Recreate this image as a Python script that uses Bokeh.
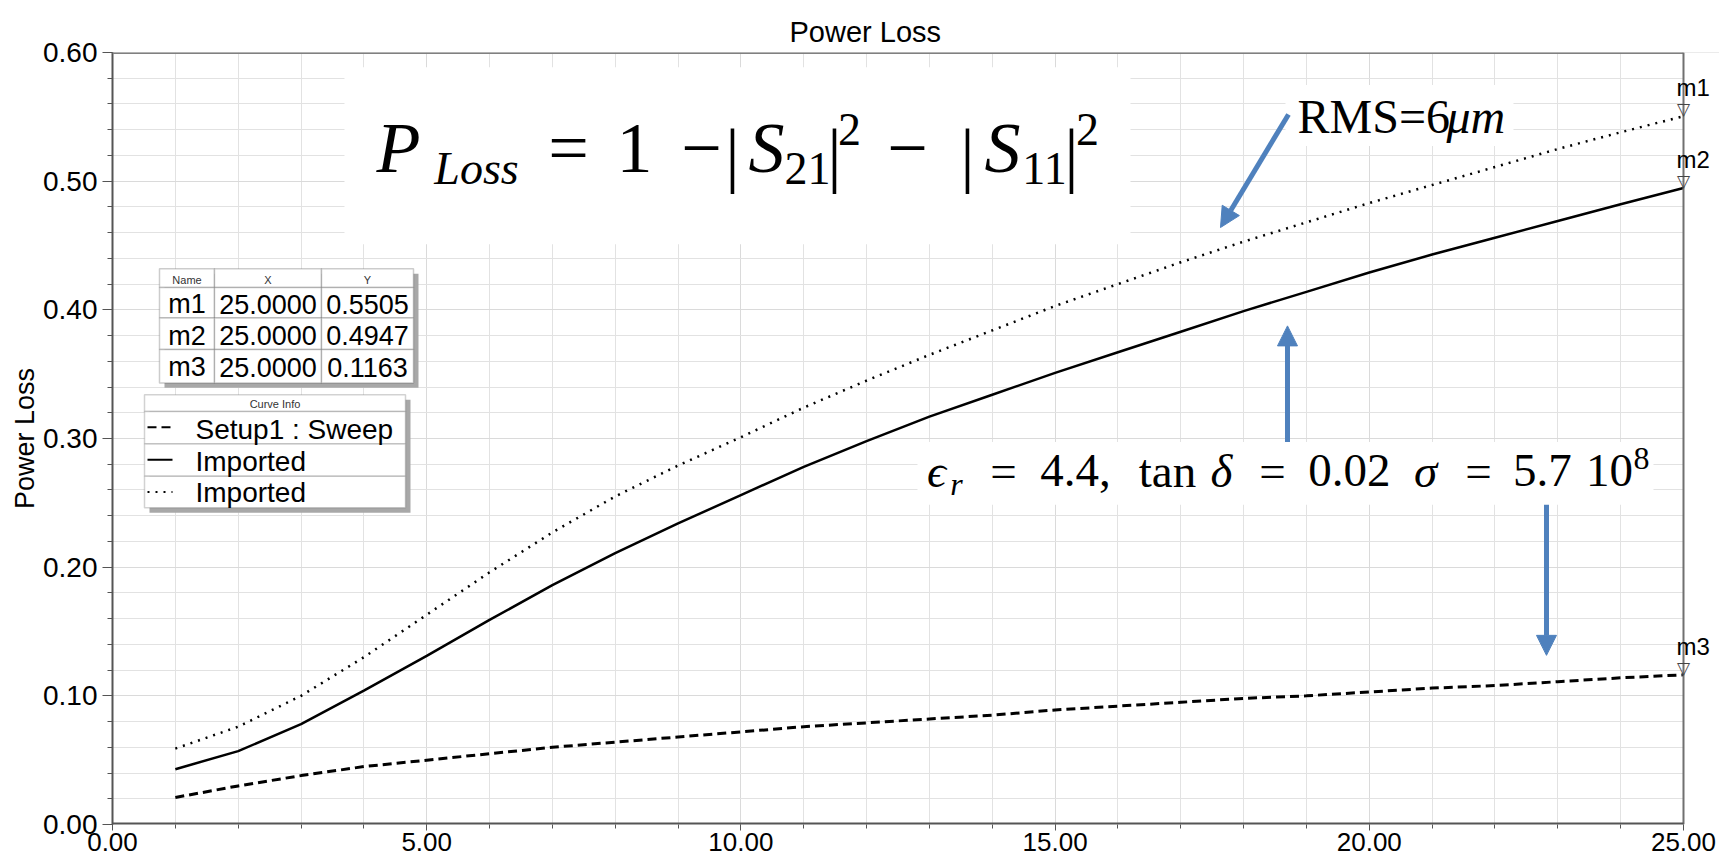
from bokeh.plotting import figure
from bokeh.models import (Range1d, SingleIntervalTicker, NumeralTickFormatter, BoxAnnotation,
                          Label, LabelSet, ColumnDataSource, Arrow, NormalHead)
from bokeh.core.properties import value
from bokeh.embed import file_html
from bokeh.resources import INLINE

# ---------------- data ----------------
freq = list(range(1, 26))
loss_sweep = [0.021, 0.030, 0.038, 0.045, 0.050, 0.055, 0.060, 0.064, 0.068, 0.072,
              0.076, 0.079, 0.082, 0.085, 0.089, 0.092, 0.095, 0.098, 0.100, 0.103,
              0.106, 0.108, 0.111, 0.114, 0.1163]
loss_imported_solid = [0.043, 0.057, 0.078, 0.104, 0.131, 0.159, 0.186, 0.211, 0.234, 0.256,
                       0.278, 0.298, 0.317, 0.334, 0.351, 0.367, 0.383, 0.399, 0.414, 0.429,
                       0.443, 0.456, 0.469, 0.482, 0.4947]
loss_imported_dotted = [0.059, 0.076, 0.100, 0.130, 0.163, 0.196, 0.227, 0.255, 0.279, 0.301,
                        0.324, 0.345, 0.365, 0.384, 0.403, 0.420, 0.437, 0.453, 0.468, 0.483,
                        0.497, 0.511, 0.525, 0.538, 0.5505]

marker_names = ["m1", "m2", "m3"]
marker_x = [25.0, 25.0, 25.0]
marker_y = [0.5505, 0.4947, 0.1163]

table_header = ["Name", "X", "Y"]
curve_labels = ["Setup1 : Sweep", "Imported", "Imported"]
curve_dashes = ["9 5", "solid", "2 6"]

X_MAX = 25.0
Y_MAX = 0.6

# ---------------- figure ----------------
p = figure(width=1719, height=862, output_backend="svg", toolbar_location=None,
           x_range=Range1d(0, 25.573), y_range=Range1d(0, Y_MAX + 1e-6),
           min_border_left=112, min_border_right=0, min_border_top=52, min_border_bottom=38)
p.background_fill_color = "white"
p.border_fill_color = "white"
p.outline_line_color = None

p.title.text = "Power Loss"
p.title.text_font = "Liberation Sans"
p.title.text_font_size = "29px"
p.title.text_font_style = "normal"
p.title.text_color = "black"
p.title.align = "left"
p.title.offset = 677
p.title.standoff = 10

for ax in (p.xaxis[0], p.yaxis[0]):
    ax.formatter = NumeralTickFormatter(format="0.00")
    ax.major_label_text_font = "Liberation Sans"
    ax.major_label_text_color = "black"
    ax.axis_line_color = "#555555"
    ax.axis_line_width = 2
    ax.major_tick_line_color = "#555555"
    ax.minor_tick_line_color = "#555555"
    ax.major_tick_in = 0
    ax.minor_tick_in = 0

p.xaxis.axis_line_color = None
p.yaxis.ticker = SingleIntervalTicker(interval=0.1, num_minor_ticks=5)
p.xaxis.ticker = SingleIntervalTicker(interval=5, num_minor_ticks=5)
p.yaxis.major_label_text_font_size = "28px"
p.xaxis.major_label_text_font_size = "26px"
p.yaxis.major_tick_out = 10
p.yaxis.minor_tick_out = 5
p.xaxis.major_tick_out = 6
p.xaxis.minor_tick_out = 4
p.yaxis.major_label_standoff = 5
p.xaxis.major_label_standoff = 2
p.yaxis.axis_label = "Power Loss"
p.yaxis.axis_label_text_font = "Liberation Sans"
p.yaxis.axis_label_text_font_size = "27px"
p.yaxis.axis_label_text_font_style = "normal"
p.yaxis.axis_label_text_color = "black"
p.yaxis.axis_label_standoff = 0

for g in (p.xgrid[0], p.ygrid[0]):
    g.grid_line_color = "#DADADA"
    g.grid_line_width = 1
    g.minor_grid_line_color = "#E2E2E2"
    g.minor_grid_line_width = 1

# ---------------- curves ----------------
p.line(freq, loss_sweep, line_color="black", line_width=3, line_dash=curve_dashes[0])
p.line(freq, loss_imported_solid, line_color="black", line_width=2.5)
p.line(freq, loss_imported_dotted, line_color="black", line_width=2.5, line_dash=curve_dashes[2])

# reference-pixel -> data helpers (annotation placement only)
def dx(px):
    return (px - 112) / 62.84

def dy(py):
    return (837 - py) / 1308.3

# area right of the last frequency: blank, then frame borders
p.add_layout(BoxAnnotation(left=X_MAX, fill_color="white", fill_alpha=1.0, line_alpha=0))
for (x0, y0, x1, y1, w, c) in [(0, Y_MAX, X_MAX, Y_MAX, 3, "#808080"),
                               (X_MAX, 0, X_MAX, Y_MAX, 2, "#707070"),
                               (0, 0, X_MAX, 0, 4, "#555555")]:
    p.add_layout(Arrow(end=None, x_start=x0, y_start=y0, x_end=x1, y_end=y1,
                       line_color=c, line_width=w))

# ---------------- markers ----------------
msrc = ColumnDataSource(dict(x=marker_x, y=marker_y, name=marker_names, tri=["\u25BD"] * 3))
p.add_layout(LabelSet(x="x", y="y", text="tri", source=msrc, text_align="center",
                      text_baseline="middle", y_offset=7, text_font=value("DejaVu Sans"),
                      text_font_size=value("17px"), text_color="#444444"))
p.add_layout(LabelSet(x="x", y="y", text="name", source=msrc, x_offset=-7, y_offset=20,
                      text_align="left", text_baseline="alphabetic",
                      text_font=value("Liberation Sans"), text_font_size=value("24px"),
                      text_color="black"))

# ---------------- math annotations ----------------
def white_box(l, r, t, b):
    p.add_layout(BoxAnnotation(left=dx(l), right=dx(r), top=dy(t), bottom=dy(b),
                               fill_color="white", fill_alpha=1.0, line_alpha=0))

def txt(s, px, py, size, italic=False, font="Liberation Serif", align="left", color="black"):
    # py is the reference baseline; compensate the renderer's baseline placement
    p.add_layout(Label(x=dx(px), y=dy(py - 0.33 * size), text=s, text_font=font,
                       text_font_size=f"{size}px",
                       text_font_style="italic" if italic else "normal",
                       text_baseline="alphabetic", text_align=align, text_color=color))

# P_Loss equation
white_box(344, 1130, 67, 247)
eq = [("P", 398, 173, 72, True), ("Loss", 476, 185, 46, True), ("=", 568, 173, 72, False),
      ("1", 634, 173, 72, False), ("\u2212", 701, 173, 72, False), ("|", 732, 180, 72, False),
      ("S", 766, 173, 72, True), ("21", 807, 185, 46, False), ("|", 834, 180, 72, False),
      ("2", 849, 146, 46, False), ("\u2212", 907, 173, 72, False), ("|", 967, 180, 72, False),
      ("S", 1002, 173, 72, True), ("11", 1044, 185, 46, False), ("|", 1071, 180, 72, False),
      ("2", 1087, 146, 46, False)]
for s, px, py, sz, it in eq:
    txt(s, px, py, sz, it, align="center")

# RMS label
white_box(1285, 1513, 85, 147)
txt("RMS=6", 1297, 133, 48)
txt("\u03BCm", 1446, 133, 48, italic=True)

# material parameters
white_box(917, 1653, 448, 512)
mat = [("\u03F5", 936, 493, 47, True), ("r", 956, 501, 32, True), ("=", 1003, 493, 47, False),
       ("4.4,", 1075, 493, 47, False), ("tan", 1167, 493, 47, False), ("\u03B4", 1221, 493, 47, True),
       ("=", 1272, 493, 47, False), ("0.02", 1349, 493, 47, False), ("\u03C3", 1425, 493, 47, True),
       ("=", 1478, 493, 47, False), ("5.7", 1542, 493, 47, False), ("10", 1609, 493, 47, False),
       ("8", 1641, 475, 32, False)]
for s, px, py, sz, it in mat:
    txt(s, px, py, sz, it, align="center")

# arrows
BLUE = "#4F81BD"
for (x0, y0, x1, y1) in [(1288, 115, 1220, 230), (1287, 448, 1287, 330), (1546, 512, 1546, 665)]:
    p.add_layout(Arrow(end=NormalHead(size=20, fill_color=BLUE, line_color=BLUE),
                       x_start=dx(x0), y_start=dy(y0), x_end=dx(x1), y_end=dy(y1),
                       line_color=BLUE, line_width=5))

# ---------------- marker table ----------------
rows = [272, 291, 322, 354, 388]
cols = [159, 214, 321, 413]
p.add_layout(BoxAnnotation(left=dx(cols[0] + 5), right=dx(cols[-1] + 5), top=dy(rows[0] + 5),
                           bottom=dy(rows[-1] + 5), fill_color="#A8A8A8", fill_alpha=1.0, line_alpha=0))
for r in range(4):
    for c in range(3):
        p.add_layout(BoxAnnotation(left=dx(cols[c]), right=dx(cols[c + 1]), top=dy(rows[r]),
                                   bottom=dy(rows[r + 1]), fill_color="white", fill_alpha=1.0,
                                   line_color="#555555", line_width=1.5))
for c in range(3):
    txt(table_header[c], (cols[c] + cols[c + 1]) / 2, 287, 11, font="Liberation Sans",
        align="center", color="#333333")
row_base = [317, 349, 381]
for i in range(3):
    vals = [marker_names[i], f"{marker_x[i]:.4f}", f"{marker_y[i]:.4f}"]
    for c in range(3):
        txt(vals[c], (cols[c] + cols[c + 1]) / 2, row_base[i], 27, font="Liberation Sans",
            align="center")

# ---------------- curve info legend ----------------
lrows = [400, 417, 450, 483, 515]
ll, lr = 144, 405
p.add_layout(BoxAnnotation(left=dx(ll + 5), right=dx(lr + 5), top=dy(lrows[0] + 5),
                           bottom=dy(lrows[-1] + 5), fill_color="#A8A8A8", fill_alpha=1.0, line_alpha=0))
for r in range(4):
    p.add_layout(BoxAnnotation(left=dx(ll), right=dx(lr), top=dy(lrows[r]), bottom=dy(lrows[r + 1]),
                               fill_color="white", fill_alpha=1.0, line_color="#6A6A6A",
                               line_width=1.5))
txt("Curve Info", (ll + lr) / 2, 413, 11, font="Liberation Sans", align="center", color="#333333")
leg_base = [445, 477, 509]
leg_mid = [433, 466, 499]
for i in range(3):
    p.add_layout(Arrow(end=None, x_start=dx(147), y_start=dy(leg_mid[i]), x_end=dx(172),
                       y_end=dy(leg_mid[i]), line_color="black", line_width=2,
                       line_dash=curve_dashes[i]))
    txt(curve_labels[i], 195, leg_base[i], 28, font="Liberation Sans")

open("out.html", "w").write(file_html(p, INLINE))
